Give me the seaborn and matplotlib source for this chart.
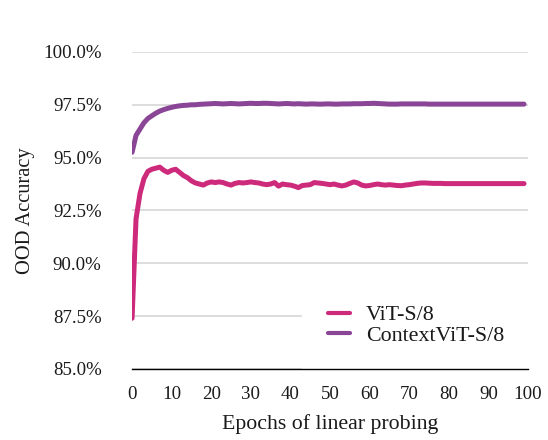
import matplotlib
matplotlib.use("Agg")
import matplotlib.pyplot as plt
import seaborn as sns
import pandas as pd
from matplotlib.ticker import FuncFormatter

epochs = list(range(100))

vit = [87.40, 92.10, 93.30, 94.00, 94.35, 94.45, 94.50, 94.55, 94.40, 94.30,
       94.40, 94.45, 94.30, 94.15, 94.05, 93.90, 93.80, 93.75, 93.70, 93.80,
       93.85, 93.82, 93.85, 93.82, 93.75, 93.70, 93.78, 93.82, 93.80, 93.82,
       93.85, 93.82, 93.80, 93.75, 93.72, 93.75, 93.82, 93.65, 93.75, 93.72,
       93.70, 93.65, 93.58, 93.68, 93.70, 93.72, 93.82, 93.80, 93.78, 93.75,
       93.72, 93.75, 93.70, 93.66, 93.70, 93.78, 93.85, 93.80, 93.70, 93.66,
       93.68, 93.72, 93.75, 93.72, 93.70, 93.72, 93.70, 93.68, 93.67, 93.70,
       93.72, 93.75, 93.78, 93.80, 93.80, 93.79, 93.78, 93.78, 93.78, 93.77,
       93.77, 93.77, 93.77, 93.77, 93.77, 93.77, 93.77, 93.77, 93.77, 93.77,
       93.77, 93.77, 93.77, 93.77, 93.77, 93.77, 93.77, 93.77, 93.77, 93.77]

context_vit = [95.25, 96.05, 96.35, 96.65, 96.85, 96.98, 97.10, 97.20, 97.27, 97.33,
               97.38, 97.42, 97.45, 97.47, 97.48, 97.50, 97.50, 97.52, 97.53, 97.54,
               97.55, 97.56, 97.55, 97.54, 97.55, 97.56, 97.55, 97.54, 97.55, 97.56,
               97.57, 97.56, 97.56, 97.57, 97.57, 97.56, 97.55, 97.54, 97.55, 97.56,
               97.55, 97.54, 97.55, 97.54, 97.53, 97.54, 97.54, 97.53, 97.53, 97.54,
               97.54, 97.53, 97.53, 97.54, 97.54, 97.54, 97.55, 97.55, 97.55, 97.56,
               97.56, 97.57, 97.56, 97.55, 97.54, 97.53, 97.53, 97.53, 97.54, 97.54,
               97.54, 97.54, 97.54, 97.54, 97.54, 97.53, 97.53, 97.53, 97.53, 97.53,
               97.53, 97.53, 97.53, 97.53, 97.53, 97.53, 97.53, 97.53, 97.53, 97.53,
               97.53, 97.53, 97.53, 97.53, 97.53, 97.53, 97.53, 97.53, 97.53, 97.53]

series_names = ["ViT-S/8", "ContextViT-S/8"]
colors = ["#CE2A7C", "#8A4596"]
y_ticks = [85.0, 87.5, 90.0, 92.5, 95.0, 97.5, 100.0]
x_ticks = list(range(0, 101, 10))

df = pd.DataFrame({
    "epoch": epochs * 2,
    "acc": vit + context_vit,
    "model": [series_names[0]] * len(epochs) + [series_names[1]] * len(epochs),
})

sns.set_theme(style="white")
plt.rcParams["font.family"] = ["Liberation Serif", "DejaVu Serif"]

fig = plt.figure(figsize=(5.48, 4.40), dpi=100)
ax = fig.add_axes([0.241, 0.1614, 0.7225, 0.7206])

sns.lineplot(data=df, x="epoch", y="acc", hue="model", palette=colors,
             linewidth=3.6, ax=ax, legend=True)

ax.set_xlim(0, 100)
ax.set_ylim(85, 100)
ax.set_yticks(y_ticks)
ax.set_xticks(x_ticks)
ax.yaxis.set_major_formatter(FuncFormatter(lambda v, p: f"{v:.1f}%"))
ax.grid(axis="y", color="#D3D3D3", linewidth=1.1)
ax.grid(axis="x", visible=False)
ax.set_axisbelow(True)
for s in ["top", "right", "left"]:
    ax.spines[s].set_visible(False)
ax.spines["bottom"].set_color("black")
ax.spines["bottom"].set_linewidth(1.0)
ax.spines["bottom"].set_zorder(3)
ax.tick_params(axis="both", length=0, labelsize=13.6, colors="#1a1a1a")
ax.tick_params(axis="y", pad=22)
ax.tick_params(axis="x", pad=12)
ax.set_xlabel("Epochs of linear probing", fontsize=15.7, color="#1a1a1a", labelpad=8)
ax.set_ylabel("OOD Accuracy", fontsize=14.7, color="#1a1a1a", labelpad=6)

leg = ax.legend(loc="upper left", bbox_to_anchor=(0.429, 0.284), fontsize=15.8,
                frameon=True, framealpha=1.0, edgecolor="white", facecolor="white",
                handlelength=1.0, handletextpad=0.73, labelspacing=0.0,
                borderpad=1.19, borderaxespad=0.0, fancybox=False)
leg.set_zorder(2.4)
for line in leg.get_lines():
    line.set_linewidth(3.0)
for t in leg.get_texts():
    t.set_color("#1a1a1a")

fig.savefig("out.png", dpi=100)
